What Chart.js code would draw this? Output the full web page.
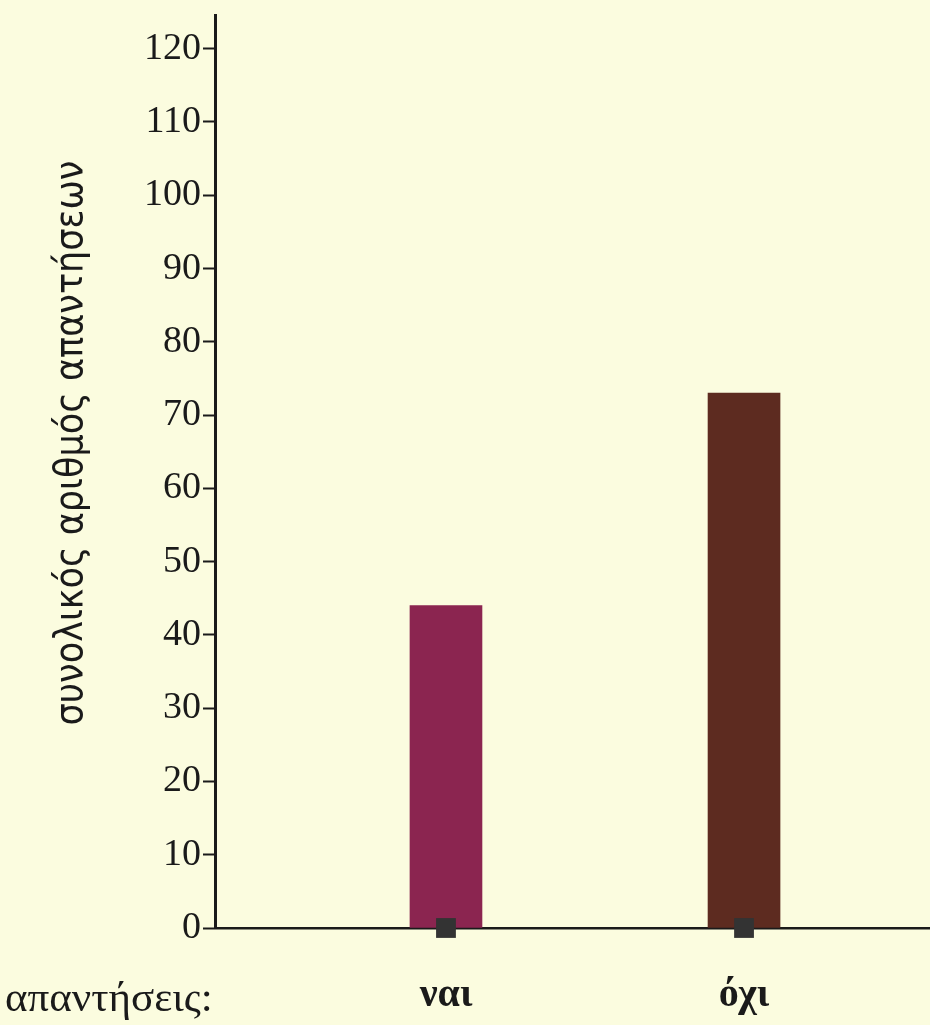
<!DOCTYPE html>
<html>
<head>
<meta charset="utf-8">
<script src="https://cdn.jsdelivr.net/npm/chart.js@4"></script>
<style>
    body { margin: 0; background: #fbfcdf; }
    #chart { display: block; }
</style>
</head>
<body>
<canvas id="chart" width="930" height="1025"></canvas>
<script>
// Δεδομένα
const categories = ['ναι', 'όχι'];
const answers = [44, 73];
const barColors = ['#8b2550', '#5d2b20'];
const yTicks = [0, 10, 20, 30, 40, 50, 60, 70, 80, 90, 100, 110, 120];
const yTitle = 'συνολικός αριθμός απαντήσεων';
const xTitle = 'απαντήσεις:';

// τίτλοι αξόνων σε σταθερές θέσεις
const titlesPlugin = {
    id: 'titles',
    afterDraw(chart) {
        const ctx = chart.ctx;
        ctx.save();
        ctx.fillStyle = '#1a1a1a';

        ctx.font = '43px "Liberation Serif"';
        ctx.textBaseline = 'alphabetic';
        ctx.textAlign = 'left';
        ctx.fillText(xTitle, 5, 1011);

        ctx.translate(72, 443);
        ctx.rotate(-Math.PI / 2);
        ctx.font = '39px "DejaVu Sans Condensed", "DejaVu Sans"';
        ctx.textAlign = 'center';
        ctx.textBaseline = 'middle';
        ctx.fillText(yTitle, 0, 0);
        ctx.restore();
    }
};

const ctx = document.getElementById('chart').getContext('2d');

new Chart(ctx, {
    type: 'bar',
    data: {
        datasets: [{
            data: answers.map((v, i) => ({ x: i + 1, y: v })),
            backgroundColor: barColors,
            barThickness: 72,
            order: 2
        }, {
            type: 'scatter',
            data: answers.map((v, i) => ({ x: i + 1, y: 0 })),
            pointStyle: 'rect',
            radius: 14,
            backgroundColor: '#333333',
            borderWidth: 0,
            clip: false,
            order: 1
        }]
    },
    options: {
        responsive: false,
        animation: false,
        layout: { autoPadding: false, padding: { top: 15, right: 0, left: 0, bottom: 0 } },
        plugins: {
            legend: { display: false },
            tooltip: { enabled: false }
        },
        scales: {
            x: {
                type: 'linear',
                offset: false,
                min: 0.225,
                max: 2.624,
                afterBuildTicks: (scale) => {
                    scale.ticks = categories.map((c, i) => ({ value: i + 1 }));
                },
                afterFit: (scale) => {
                    scale.height = 97;
                    scale.paddingLeft = 0;
                    scale.paddingRight = 0;
                },
                grid: { display: true, offset: false, drawOnChartArea: false, drawTicks: false },
                border: { display: true, color: '#1a1a1a', width: 2.5 },
                ticks: {
                    padding: 44,
                    color: '#1a1a1a',
                    font: { family: '"Liberation Serif"', size: 40, weight: 'bold' },
                    callback: (v) => categories[v - 1]
                }
            },
            y: {
                min: 0,
                max: 124.6,
                afterBuildTicks: (scale) => {
                    scale.ticks = yTicks.map(v => ({ value: v }));
                },
                afterFit: (scale) => {
                    scale.width = 215;
                    scale.paddingTop = 0;
                    scale.paddingBottom = 0;
                },
                grid: {
                    display: true,
                    drawOnChartArea: false,
                    tickLength: 12,
                    tickWidth: 2,
                    tickColor: '#1a1a1a'
                },
                border: { display: true, color: '#1a1a1a', width: 3 },
                ticks: {
                    padding: 2,
                    color: '#1a1a1a',
                    font: { family: '"Liberation Serif"', size: 38 }
                }
            }
        }
    },
    plugins: [titlesPlugin]
});
</script>
</body>
</html>
